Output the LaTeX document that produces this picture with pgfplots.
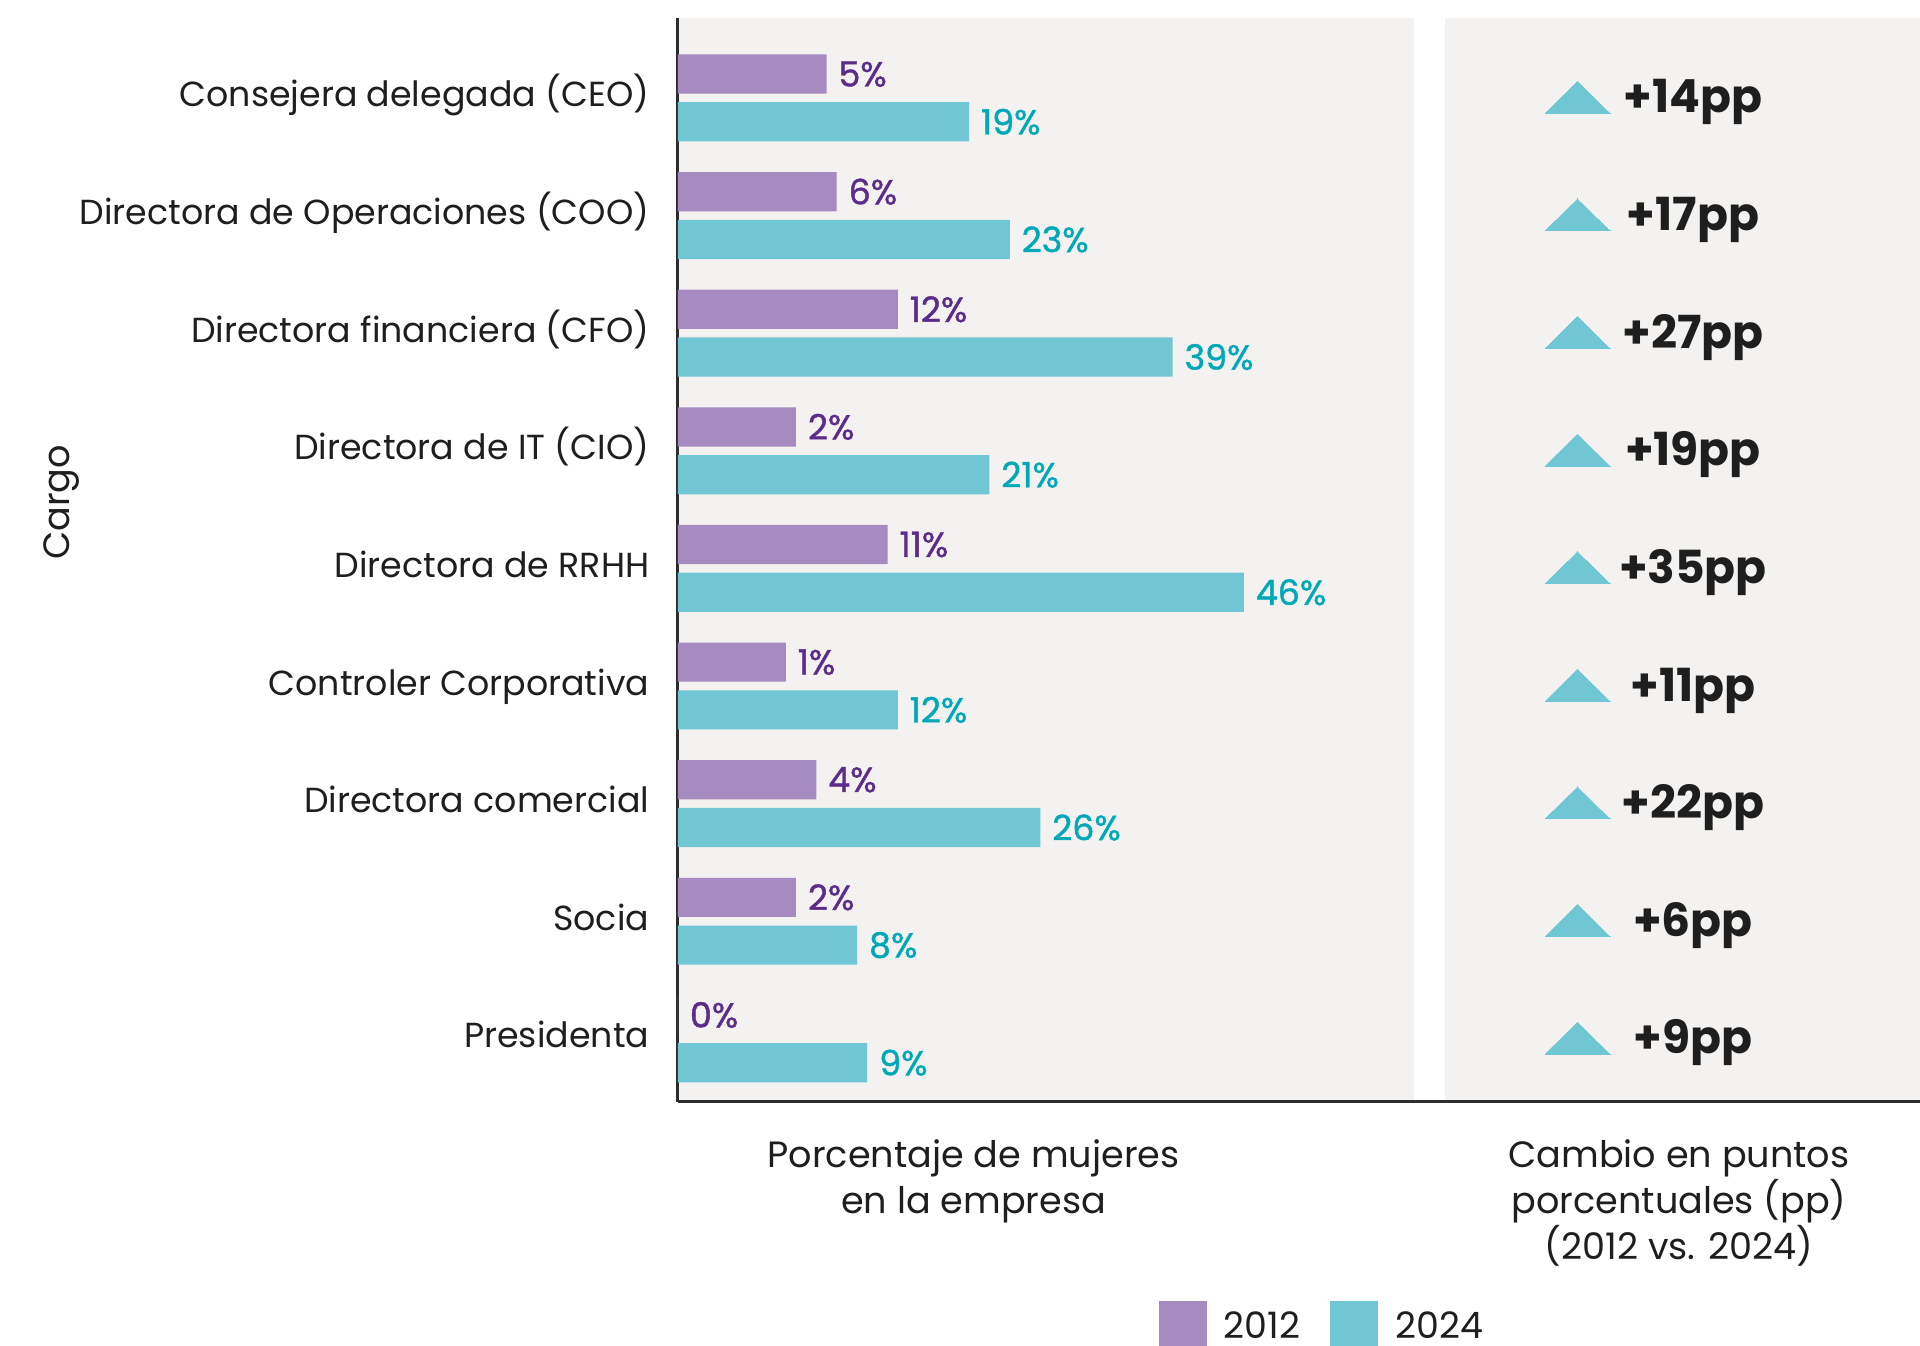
\documentclass[border=0pt]{standalone}
\usepackage{fontspec}
\setmainfont{Poppins}
\newfontfamily\semib[FakeBold=1.2]{Poppins}
\usepackage{pgfplots}
\pgfplotsset{compat=1.18}
\usepackage{pgfplotstable}
\definecolor{purpbar}{RGB}{166,139,193}
\definecolor{tealbar}{RGB}{112,198,211}
\definecolor{purptxt}{RGB}{91,44,138}
\definecolor{tealtxt}{RGB}{0,168,184}
\definecolor{bggray}{RGB}{243,242,240}
\definecolor{txt}{RGB}{30,30,30}
\definecolor{axisgray}{RGB}{45,45,45}

% y: row position (8 = top), v12/v24: percentages, d: change in pp
\pgfplotstableread{
y v12 v24 d
8 5 19 14
7 6 23 17
6 12 39 27
5 2 21 19
4 11 46 35
3 1 12 11
2 4 26 22
1 2 8 6
0 0 9 9
}\data

\begin{document}
\begin{tikzpicture}
\useasboundingbox (0,0) rectangle (480pt,-336.5pt);
\begin{axis}[name=L, at={(169.5pt,-275.5pt)}, anchor=south west,
  scale only axis, width=184pt, height=271pt,
  /pgf/number format/assume math mode=true,
  xmin=0, xmax=72.3, ymin=-0.537, ymax=8.680,
  xbar, bar width=9.8pt,
  axis background/.style={fill=bggray},
  axis x line=none, axis y line*=left,
  axis line style={-, draw=axisgray, line width=0.75pt},
  xtick=\empty, ytick={0,...,8},
  yticklabels={Presidenta,Socia,Directora comercial,Controler Corporativa,Directora de RRHH,Directora de IT (CIO),Directora financiera (CFO),Directora de Operaciones (COO),Consejera delegada (CEO)},
  major tick length=0pt,
  yticklabel style={anchor=base east, inner sep=0pt, xshift=-7pt, yshift=-2.25pt, font=\fontsize{8.7}{11}\selectfont, text=txt},
  clip=false,
  legend columns=2,
  legend style={draw=none, fill=none, at={(0.652,-0.2056)}, anchor=west, inner sep=0pt,
    font=\fontsize{9.1}{11}\selectfont, text=txt,
    /tikz/every even column/.append style={column sep=7.6pt},
    nodes={inner sep=0pt, outer sep=0pt, text depth=0pt}},
  legend cell align=left,
]
\addplot[fill=purpbar, draw=none, bar shift=5.97pt,
  point meta=explicit,
  nodes near coords={\pgfmathprintnumber{\pgfplotspointmeta}\%},
  nodes near coords style={anchor=west, inner sep=0pt, xshift=2.8pt, text=purptxt, font=\semib\fontsize{8.7}{10}\selectfont},
  legend image code/.code={\fill[purpbar] (0pt,-6pt) rectangle (12pt,6pt); \path (16.25pt,0pt);}]
  table[x expr={\thisrow{v12}>0 ? \thisrow{v12}+9.59 : 0}, y=y, meta=v12] {\data};
\addlegendentry{2012}
\addplot[fill=tealbar, draw=none, bar shift=-5.97pt,
  point meta=explicit,
  nodes near coords={\pgfmathprintnumber{\pgfplotspointmeta}\%},
  nodes near coords style={anchor=west, inner sep=0pt, xshift=2.8pt, text=tealtxt, font=\semib\fontsize{8.7}{10}\selectfont},
  legend image code/.code={\fill[tealbar] (0pt,-6pt) rectangle (12pt,6pt); \path (16.25pt,0pt);}]
  table[x expr={\thisrow{v24}>0 ? \thisrow{v24}+9.59 : 0}, y=y, meta=v24] {\data};
\addlegendentry{2024}
\end{axis}

\begin{axis}[name=R, at={(361.25pt,-275.5pt)}, anchor=south west,
  scale only axis, width=118.75pt, height=271pt,
  /pgf/number format/assume math mode=true,
  xmin=0, xmax=475, ymin=-0.537, ymax=8.680,
  axis background/.style={fill=bggray},
  axis x line=none, axis y line=none,
  xtick=\empty, ytick=\empty, clip=false]
\addplot[only marks, color=tealbar, mark=triangle*, mark size=9.38pt,
  mark options={yscale=0.569, fill=tealbar, draw=tealbar, line width=0pt}]
  table[x expr=132.5, y expr=\thisrow{y}-0.039] {\data};
\addplot[draw=none, mark=none, point meta=explicit,
  nodes near coords={+\pgfmathprintnumber{\pgfplotspointmeta}pp},
  nodes near coords style={anchor=base, inner sep=0pt, yshift=-3.75pt, text=txt, font=\fontsize{11.4}{13}\selectfont\bfseries}]
  table[x expr=248, y=y, meta=d] {\data};
\end{axis}

\draw[axisgray, line width=0.75pt] (L.south west) -- (R.south east);

\node[rotate=90, text=txt, font=\fontsize{9.15}{11}\selectfont] at (15.5pt,-125.6pt) {Cargo};
\node[anchor=base, text=txt, font=\fontsize{9.15}{11}\selectfont] at (243.4pt,-291.9pt) {Porcentaje de mujeres};
\node[anchor=base, text=txt, font=\fontsize{9.15}{11}\selectfont] at (243.4pt,-303.4pt) {en la empresa};
\node[anchor=base, text=txt, font=\fontsize{9.15}{11}\selectfont] at (419.75pt,-291.9pt) {Cambio en puntos};
\node[anchor=base, text=txt, font=\fontsize{9.15}{11}\selectfont] at (419.75pt,-303.4pt) {porcentuales (pp)};
\node[anchor=base, text=txt, font=\fontsize{9.15}{11}\selectfont] at (419.75pt,-315pt) {(2012 vs. 2024)};
\end{tikzpicture}
\end{document}
